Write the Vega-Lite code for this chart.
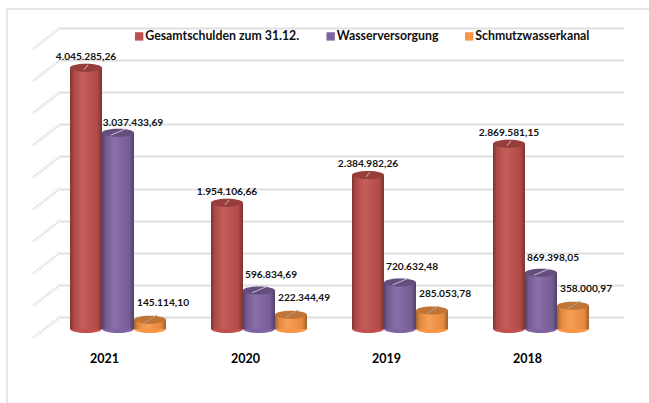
{
"$schema":"https://vega.github.io/schema/vega-lite/v6.json",
"width":645,"height":397,
"autosize":{"type":"none"},
"padding":{"left":7,"top":9,"right":0,"bottom":0},
"background":"white",
"config":{"view":{"stroke":"#dedede","strokeWidth":1.5},"font":"Lato"},
"datasets":{
"grid":[{"v":0},{"v":500000},{"v":1000000},{"v":1500000},{"v":2000000},{"v":2500000},{"v":3000000},{"v":3500000},{"v":4000000},{"v":4500000}],
"bars":[
{"year":"2021","series":"Gesamtschulden zum 31.12.","value":4045285.26,"label":"4.045.285,26"},
{"year":"2021","series":"Wasserversorgung","value":3037433.69,"label":"3.037.433,69"},
{"year":"2021","series":"Schmutzwasserkanal","value":145114.10,"label":"145.114,10"},
{"year":"2020","series":"Gesamtschulden zum 31.12.","value":1954106.66,"label":"1.954.106,66"},
{"year":"2020","series":"Wasserversorgung","value":596834.69,"label":"596.834,69"},
{"year":"2020","series":"Schmutzwasserkanal","value":222344.49,"label":"222.344,49"},
{"year":"2019","series":"Gesamtschulden zum 31.12.","value":2384982.26,"label":"2.384.982,26"},
{"year":"2019","series":"Wasserversorgung","value":720632.48,"label":"720.632,48"},
{"year":"2019","series":"Schmutzwasserkanal","value":285053.78,"label":"285.053,78"},
{"year":"2018","series":"Gesamtschulden zum 31.12.","value":2869581.15,"label":"2.869.581,15"},
{"year":"2018","series":"Wasserversorgung","value":869398.05,"label":"869.398,05"},
{"year":"2018","series":"Schmutzwasserkanal","value":358000.97,"label":"358.000,97"}
]},
"resolve":{"scale":{"y":"independent"}},
"layer":[
{"data":{"name":"grid"},
 "mark":{"type":"point","shape":"M-7.05 0 L-9.75 2.1","stroke":"#dcdcdc","strokeWidth":3,"strokeDash":[2,1],"size":400,"filled":false},
 "encoding":{
  "x":{"datum":"2021","type":"nominal","scale":{"domain":["2021","2020","2019","2018"],"range":[53,617],"paddingInner":0,"paddingOuter":0},
       "axis":{"title":null,"domain":false,"ticks":false,"grid":false,"labelAngle":0,"labelOffset":-26,"orient":"bottom","offset":-54,"labelPadding":0,"labelFont":"Lato","labelFontWeight":"bold","labelFontSize":12.5,"labelColor":"#000"}},
  "y":{"field":"v","type":"quantitative","scale":{"domain":[0,4500000],"range":[308,19],"nice":false},
       "axis":{"grid":true,"gridColor":"#e0e0e0","gridWidth":2,"labels":false,"ticks":false,"domain":false,"title":null,"values":[0,500000,1000000,1500000,2000000,2500000,3000000,3500000,4000000,4500000]}}
 }},
{"data":{"name":"bars"},
 "encoding":{
  "x":{"field":"year","type":"nominal","sort":["2021","2020","2019","2018"]},
  "xOffset":{"field":"series","type":"nominal","sort":["Gesamtschulden zum 31.12.","Wasserversorgung","Schmutzwasserkanal"],"scale":{"range":[10,106],"paddingInner":0,"paddingOuter":0}},
  "y":{"field":"value","type":"quantitative","scale":{"domain":[0,4500000],"range":[320,29.3],"nice":false},"axis":null},
  "color":{"field":"series","type":"nominal","sort":["Gesamtschulden zum 31.12.","Wasserversorgung","Schmutzwasserkanal"],
    "scale":{"domain":["Gesamtschulden zum 31.12.","Wasserversorgung","Schmutzwasserkanal"],"range":["#C0504D","#8064A2","#F79646"]},
    "legend":{"title":null,"orient":"none","legendX":126,"legendY":21,"direction":"horizontal","columns":3,"symbolType":"square","symbolSize":70,"symbolOpacity":1,"symbolStrokeWidth":0,"labelFont":"Lato","labelFontWeight":"bold","labelFontSize":12.3,"labelColor":"#111","labelLimit":220,"columnPadding":24.5,"labelOffset":0}}
 },
 "layer":[
  {"mark":{"type":"point","filled":true,"opacity":1,"shape":"M-1 0 A1 0.25 0 1 0 1 0 L-1 0 Z","size":1024},
   "encoding":{"y":{"datum":0,"type":"quantitative"}}},
  {"mark":{"type":"bar"}},
  {"mark":{"type":"bar"},"encoding":{"color":{"value":{"gradient":"linear","x1":0,"x2":1,"y1":0,"y2":0,"stops":[{"offset":0,"color":"rgba(0,0,0,0.34)"},{"offset":0.12,"color":"rgba(0,0,0,0.1)"},{"offset":0.4,"color":"rgba(255,255,255,0.08)"},{"offset":0.85,"color":"rgba(0,0,0,0.08)"},{"offset":1,"color":"rgba(0,0,0,0.36)"}]}}}},
  {"mark":{"type":"point","filled":true,"opacity":1,"shape":"M-1 0 A1 0.25 0 1 1 1 0 A1 0.25 0 1 1 -1 0 Z","size":1024}},
  {"mark":{"type":"point","filled":true,"opacity":0.22,"shape":"M-1 0 A1 0.25 0 1 1 1 0 A1 0.25 0 1 1 -1 0 Z","size":1024},"encoding":{"color":{"value":"#000"}}},
  {"transform":[{"filter":"datum.series==='Gesamtschulden zum 31.12.'"}],
   "layer":[
    {"mark":{"type":"point","filled":false,"shape":"M-0.5 0.5 L0.5 -0.7","size":64,"strokeWidth":1,"opacity":1},"encoding":{"color":{"value":"#d8b8b8"}}},
    {"mark":{"type":"text","dx":0,"dy":-11,"fontWeight":"bold","fontSize":10.2,"font":"Lato"},"encoding":{"text":{"field":"label"},"color":{"value":"#111"}}}
   ]},
  {"transform":[{"filter":"datum.series==='Wasserversorgung'"}],
   "layer":[
    {"mark":{"type":"point","filled":false,"shape":"M-0.9 0.3 L1 -0.5","size":256,"strokeWidth":1,"opacity":1},"encoding":{"color":{"value":"#c8c0d4"}}},
    {"transform":[{"filter":"datum.value<1000000"}],"mark":{"type":"text","dx":12,"dy":-15,"fontWeight":"bold","fontSize":10.2,"font":"Lato"},"encoding":{"text":{"field":"label"},"color":{"value":"#111"}}},
    {"transform":[{"filter":"datum.value>=1000000"}],"mark":{"type":"text","dx":15,"dy":-10,"fontWeight":"bold","fontSize":10.2,"font":"Lato"},"encoding":{"text":{"field":"label"},"color":{"value":"#111"}}}
   ]},
  {"transform":[{"filter":"datum.series==='Schmutzwasserkanal'"}],
   "layer":[
    {"mark":{"type":"point","filled":false,"shape":"M-0.7 0.4 L0.9 -0.6","size":256,"strokeWidth":1,"opacity":1},"encoding":{"color":{"value":"#b0a090"}}},
    {"mark":{"type":"text","dx":13,"dy":-17,"fontWeight":"bold","fontSize":10.2,"font":"Lato"},"encoding":{"text":{"field":"label"},"color":{"value":"#111"}}}
   ]}
 ]}
]
}
